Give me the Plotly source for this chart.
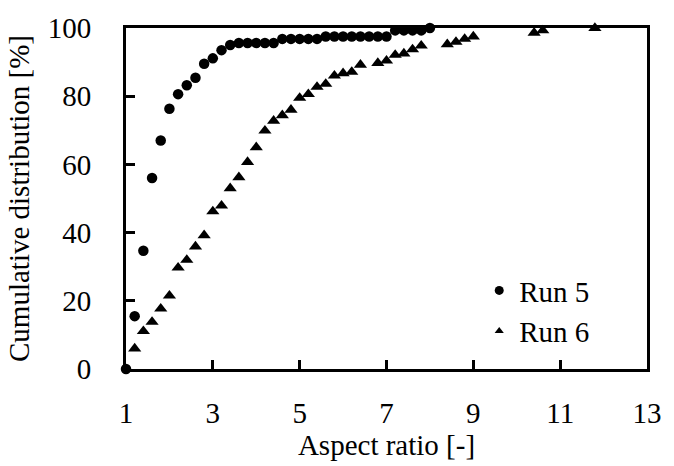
import plotly.graph_objects as go

run5_x = [1.0, 1.2, 1.4, 1.6, 1.8, 2.0, 2.2, 2.4, 2.6, 2.8, 3.0, 3.2, 3.4, 3.6, 3.8, 4.0,
          4.2, 4.4, 4.6, 4.8, 5.0, 5.2, 5.4, 5.6, 5.8, 6.0, 6.2, 6.4, 6.6, 6.8, 7.0,
          7.2, 7.4, 7.6, 7.8, 8.0]
run5_y = [0.0, 15.5, 34.7, 56.0, 67.0, 76.3, 80.6, 83.2, 85.4, 89.5, 91.1, 93.5, 95.0, 95.6, 95.6, 95.6,
          95.6, 95.6, 96.8, 96.8, 96.8, 96.8, 96.8, 97.5, 97.5, 97.5, 97.5, 97.5, 97.5, 97.5, 97.5,
          99.3, 99.3, 99.3, 99.3, 100.0]

run6_x = [1.2, 1.4, 1.6, 1.8, 2.0, 2.2, 2.4, 2.6, 2.8, 3.0, 3.2, 3.4, 3.6, 3.8, 4.0, 4.2,
          4.4, 4.6, 4.8, 5.0, 5.2, 5.4, 5.6, 5.8, 6.0, 6.2, 6.4, 6.8, 7.0, 7.2, 7.4, 7.6,
          7.8, 8.4, 8.6, 8.8, 9.0, 10.4, 10.6, 11.8]
run6_y = [6.0, 11.1, 13.8, 17.7, 21.5, 29.7, 32.0, 35.9, 39.2, 46.2, 47.9, 53.0, 56.2, 60.7, 65.0, 69.9,
          72.8, 74.4, 76.0, 79.5, 80.6, 82.7, 83.6, 86.0, 86.7, 87.1, 89.2, 89.7, 90.4, 92.1, 92.5, 93.7,
          94.8, 95.2, 95.9, 96.8, 97.5, 98.6, 99.3, 100.0]

series_names = ["Run 5", "Run 6"]
x_ticks = [1, 3, 5, 7, 9, 11, 13]
y_ticks = [0, 20, 40, 60, 80, 100]

FONT = "Liberation Serif, Times New Roman, serif"
FS = 29

fig = go.Figure()
fig.add_trace(go.Scatter(x=run5_x, y=run5_y, mode="markers", showlegend=False,
                         marker=dict(symbol="circle", size=10.5, color="black"),
                         cliponaxis=False))
fig.add_trace(go.Scatter(x=run6_x, y=run6_y, mode="markers", showlegend=False,
                         marker=dict(symbol="triangle-up", size=11.5, color="black"),
                         cliponaxis=False))
# legend entries (smaller symbols, as in the reference)
fig.add_trace(go.Scatter(x=[None], y=[None], mode="markers", name=series_names[0],
                         marker=dict(symbol="circle", size=9, color="black")))
fig.add_trace(go.Scatter(x=[None], y=[None], mode="markers", name=series_names[1],
                         marker=dict(symbol="triangle-up", size=8, color="black")))

axis_common = dict(showgrid=False, zeroline=False, showline=True, linecolor="black",
                   linewidth=3, mirror=True, ticks="inside", ticklen=9, tickwidth=2.5,
                   tickcolor="black", tickfont=dict(family=FONT, size=FS, color="black"))

fig.update_xaxes(range=[1, 13], tickvals=x_ticks, ticktext=[str(v) for v in x_ticks],
                 title=dict(text="Aspect ratio [-]", font=dict(family=FONT, size=FS, color="black"),
                            standoff=2),
                 ticklabelstandoff=16, **axis_common)
fig.update_yaxes(range=[0, 100], tickvals=y_ticks, ticktext=[str(v) for v in y_ticks],
                 title=dict(text="Cumulative distribution [%]",
                            font=dict(family=FONT, size=FS, color="black"), standoff=10),
                 ticklabelstandoff=26, **axis_common)

fig.update_layout(
    width=674, height=466,
    margin=dict(l=126, r=16, t=21, b=97),
    paper_bgcolor="white", plot_bgcolor="white",
    font=dict(family=FONT, size=FS, color="black"),
    legend=dict(x=0.678, y=0.17, xanchor="left", yanchor="middle",
                bgcolor="rgba(0,0,0,0)", itemwidth=30, tracegroupgap=0,
                font=dict(family=FONT, size=FS, color="black")),
)

fig.write_html("out.html")
